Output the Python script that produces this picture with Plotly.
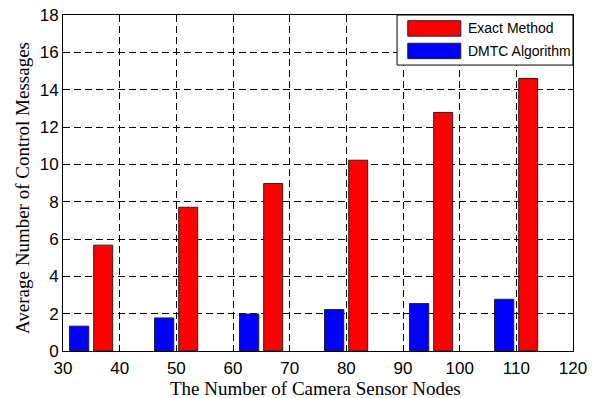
import plotly.graph_objects as go

# Network sizes (group centres) and measured message counts
nodes = [35, 50, 65, 80, 95, 110]
exact_method = [5.67, 7.7, 8.97, 10.22, 12.78, 14.6]
dmtc_algorithm = [1.33, 1.77, 1.98, 2.22, 2.54, 2.77]

x_ticks = [30, 40, 50, 60, 70, 80, 90, 100, 110, 120]
y_ticks = [0, 2, 4, 6, 8, 10, 12, 14, 16, 18]

series_names = ["Exact Method", "DMTC Algorithm"]
series_colors = ["#FF0000", "#0000FF"]
x_title = "The Number of Camera Sensor Nodes"
y_title = "Average Number of Control Messages"

fig = go.Figure()
fig.add_trace(go.Bar(
    x=nodes, y=dmtc_algorithm, name=series_names[1],
    width=3.4, offset=-3.85,
    marker=dict(color=series_colors[1], line=dict(color="#222222", width=1)),
    showlegend=False,
))
fig.add_trace(go.Bar(
    x=nodes, y=exact_method, name=series_names[0],
    width=3.35, offset=0.42,
    marker=dict(color=series_colors[0], line=dict(color="#222222", width=1)),
    showlegend=False,
))

axis_common = dict(
    showline=True, linecolor="black", linewidth=1, mirror="ticks",
    ticks="inside", ticklen=5, tickcolor="black",
    showgrid=True, gridcolor="black", gridwidth=1, griddash="7px,4px",
    zeroline=False, automargin=False,
    tickfont=dict(family="Liberation Sans, Arial", size=17, color="black"),
)
title_font = dict(family="Liberation Serif, Times New Roman", size=19, color="black")

fig.update_xaxes(
    range=[30, 120], tickvals=x_ticks, ticktext=[str(v) for v in x_ticks],
    ticklabelstandoff=2, **axis_common,
)
fig.update_yaxes(
    range=[0, 18], tickvals=y_ticks, ticktext=[str(v) for v in y_ticks],
    ticklabelstandoff=0, **axis_common,
)

# Axis titles
annotations = [
    dict(xref="paper", yref="paper", x=0.5, y=0, xshift=-3, yshift=-25,
         text=x_title, showarrow=False, xanchor="center", yanchor="top",
         font=title_font),
    dict(xref="paper", yref="paper", x=0, y=0.5, xshift=-41, yshift=-5,
         text=y_title, showarrow=False, xanchor="center", yanchor="middle",
         textangle=-90, font=title_font),
]

# Legend box in the upper-right corner, MATLAB style
shapes = [dict(type="rect", xref="paper", yref="paper",
               x0=0.655, x1=1.0, y0=0.851, y1=1.0,
               line=dict(color="black", width=1), fillcolor="white", layer="above")]
row_y = [0.960, 0.893]
for name, color, yc in zip(series_names, series_colors, row_y):
    shapes.append(dict(type="rect", xref="paper", yref="paper",
                       x0=0.676, x1=0.780, y0=yc - 0.023, y1=yc + 0.023,
                       line=dict(color="#222222", width=1), fillcolor=color, layer="above"))
    annotations.append(dict(xref="paper", yref="paper", x=0.790, y=yc,
                            text=name, showarrow=False, xanchor="left", yanchor="middle",
                            font=dict(family="Liberation Sans, Arial", size=14, color="black")))

fig.update_layout(
    width=597, height=398,
    margin=dict(l=63, r=24, t=15, b=47),
    paper_bgcolor="white", plot_bgcolor="white",
    barmode="overlay",
    shapes=shapes, annotations=annotations,
    showlegend=False,
)

fig.write_html("out.html")
